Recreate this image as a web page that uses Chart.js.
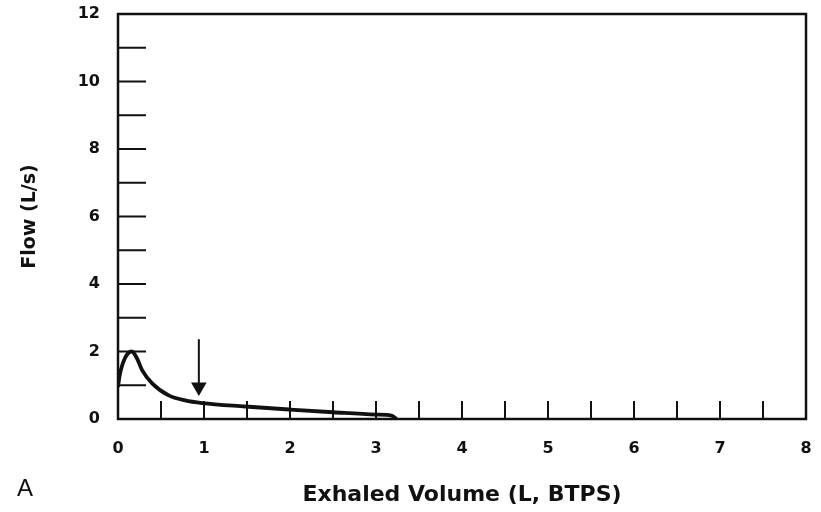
<!DOCTYPE html>
<html>
<head>
<meta charset="utf-8">
<script src="https://cdn.jsdelivr.net/npm/chart.js@4"></script>
<style>
  html, body { margin: 0; padding: 0; background: #fff; }
  #wrap { position: relative; width: 821px; height: 512px; }
</style>
</head>
<body>
<div id="wrap"><canvas id="chartFlujo" width="821" height="512"></canvas></div>
<script>
// Curva flujo-volumen espiratoria (figura A)

const volumen = [0, 0.02, 0.08, 0.16, 0.22, 0.28, 0.4, 0.59, 0.78, 0.98, 1.48, 2.0, 2.5, 3.0, 3.18, 3.24];
const flujo = [0.95, 1.3, 1.8, 2.0, 1.8, 1.45, 1.05, 0.7, 0.55, 0.47, 0.37, 0.28, 0.2, 0.13, 0.1, 0];

// flecha que señala la curva
const flechaX = [0.94, 0.94];
const flechaY = [2.36, 0.95];

// marcas interiores de los ejes
const marcasX = [0.5, 1, 1.5, 2, 2.5, 3, 3.5, 4, 4.5, 5, 5.5, 6, 6.5, 7, 7.5];
const marcasY = [1, 2, 3, 4, 5, 6, 7, 8, 9, 10, 11];

const tituloX = 'Exhaled Volume (L, BTPS)';
const tituloY = 'Flow (L/s)';
const etiquetaPanel = 'A';

const fuente = "'DejaVu Sans', Verdana, sans-serif";

const marcasPlugin = {
  id: 'marcas',
  afterDraw(chart) {
    const { ctx, chartArea: a, scales } = chart;
    ctx.save();
    ctx.strokeStyle = '#111';
    ctx.lineWidth = 2.5;
    ctx.strokeRect(a.left, a.top, a.right - a.left, a.bottom - a.top);
    ctx.lineWidth = 2;
    ctx.beginPath();
    marcasY.forEach(v => {
      const y = scales.y.getPixelForValue(v);
      ctx.moveTo(a.left, y);
      ctx.lineTo(a.left + 28, y);
    });
    marcasX.forEach(v => {
      const x = scales.x.getPixelForValue(v);
      ctx.moveTo(x, a.bottom);
      ctx.lineTo(x, a.bottom - 18);
    });
    ctx.stroke();
    // letra del panel
    ctx.fillStyle = '#111';
    ctx.font = "24px 'Liberation Sans', Arial, sans-serif";
    ctx.textBaseline = 'middle';
    ctx.fillText(etiquetaPanel, 17, 489);
    ctx.restore();
  }
};

new Chart(document.getElementById('chartFlujo'), {
  type: 'line',
  data: {
    datasets: [
      {
        data: volumen.map((v, i) => ({ x: v, y: flujo[i] })),
        borderColor: '#111',
        borderWidth: 3.8,
        pointRadius: 0,
        tension: 0.35,
        cubicInterpolationMode: 'monotone'
      },
      {
        data: flechaX.map((v, i) => ({ x: v, y: flechaY[i] })),
        borderColor: '#111',
        backgroundColor: '#111',
        borderWidth: 2,
        pointRadius: [0, 7],
        pointStyle: 'triangle',
        rotation: 180
      }
    ]
  },
  options: {
    responsive: false,
    animation: false,
    layout: { padding: { left: 16, right: 15, top: 14, bottom: 4 } },
    plugins: { legend: { display: false }, tooltip: { enabled: false } },
    scales: {
      x: {
        type: 'linear',
        min: 0,
        max: 8,
        grid: { display: false },
        border: { display: false },
        ticks: { stepSize: 1, color: '#111', padding: 12, font: { family: fuente, size: 16, weight: 'bold' } },
        title: { display: true, text: tituloX, color: '#111', padding: { top: 0, bottom: 0 }, font: { family: fuente, size: 22, weight: 'bold' } },
        afterFit: s => { s.height = 89; s.paddingLeft = 0; s.paddingRight = 0; }
      },
      y: {
        min: 0,
        max: 12,
        grid: { display: false },
        border: { display: false },
        ticks: { stepSize: 2, color: '#111', padding: 10, font: { family: fuente, size: 16, weight: 'bold' } },
        title: { display: true, text: tituloY, color: '#111', padding: { top: 3, bottom: 0 }, font: { family: fuente, size: 19, weight: 'bold' } },
        afterFit: s => { s.width = 102; s.paddingTop = 0; s.paddingBottom = 0; }
      }
    }
  },
  plugins: [marcasPlugin]
});
</script>
</body>
</html>
